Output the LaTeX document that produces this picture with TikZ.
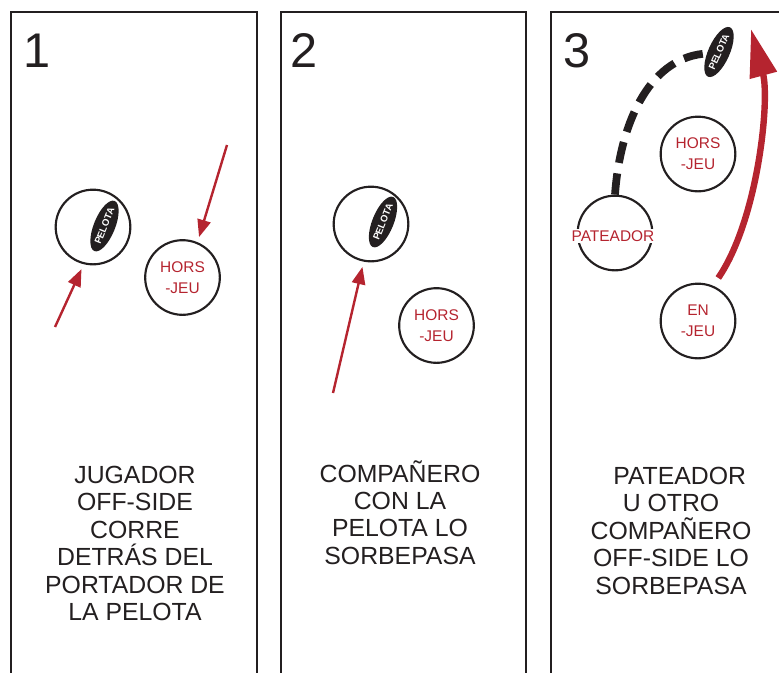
\documentclass[tikz,border=0pt]{standalone}
\usepackage{fontspec}
\setmainfont{Liberation Sans}
\usetikzlibrary{shapes.geometric,arrows.meta}
\definecolor{ink}{HTML}{231F20}
\definecolor{rojo}{HTML}{B5242F}
\tikzstyle{panel} = [draw=ink, line width=1.5pt]
\tikzstyle{player} = [draw=ink, circle, line width=1.6pt, minimum size=56pt, inner sep=0pt, text=rojo, align=center, font=\fontsize{11.6}{16}\selectfont]
\tikzstyle{tag} = [fill=white, text=rojo, inner sep=1pt, font=\fontsize{11.6}{16}\selectfont]
\tikzstyle{ball} = [ellipse, fill=ink, text=white, minimum width=40pt, minimum height=16pt, inner sep=0pt, font=\bfseries\fontsize{7.2}{8}\selectfont]
\tikzstyle{caption} = [anchor=north, align=center, text=ink, inner sep=0pt, font=\fontsize{18.6}{20.55}\selectfont]
\tikzstyle{number} = [anchor=base west, inner sep=0pt, text=ink, font=\fontsize{36.5}{40}\selectfont]
\tikzstyle{run} = [draw=rojo, line width=1.8pt, -{Triangle[length=13pt,width=10pt]}]
\tikzstyle{kick} = [draw=rojo, line width=4.8pt, -{Triangle[length=36pt,width=20pt]}]
\tikzstyle{pass} = [draw=ink, line width=5.8pt, dash pattern=on 16pt off 8pt]

\begin{document}
\begin{tikzpicture}[x=0.75pt, y=-0.75pt]
            \useasboundingbox (0,0) rectangle (779,672);
            \clip (0,0) rectangle (779,672);

            % panels
            \draw[panel] (11,690) -- (11,12) -- (257,12) -- (257,690);
            \draw[panel] (281,690) -- (281,12) -- (526,12) -- (526,690);
            \draw[panel] (551,690) -- (551,12) -- (800,12);

            \node[number]   (n1)    at (23,67)      {1};
            \node[number]   (n2)    at (290,67)     {2};
            \node[number]   (n3)    at (563,67)     {3};

            % 1
            \node[player]   (carrierA)  at (93,227)     {};
            \node[ball, rotate=68] (ballA) at (104.5,226) {PELOTA};
            \node[player]   (horsA)     at (182.5,277.5) {HORS\\-JEU};
            \coordinate (fromA) at (55,327);
            \coordinate (fromB) at (227,145);
            \draw[run, shorten >=4pt] (fromA) -- (carrierA.256);
            \draw[run, shorten >=4pt] (fromB) -- (horsA.67);

            % 2
            \node[player]   (carrierB)  at (371,224)    {};
            \node[ball, rotate=68] (ballB) at (383,222) {PELOTA};
            \node[player]   (horsB)     at (436.5,325.5) {HORS\\-JEU};
            \coordinate (fromC) at (333,393);
            \draw[run, shorten >=4pt] (fromC) -- (carrierB.259);

            % 3
            \node[player]   (pate)      at (615,233)    {};
            \node[tag]      (pateLbl)   at (613,236)    {PATEADOR};
            \node[player]   (horsC)     at (698,154)    {HORS\\-JEU};
            \node[player]   (enjeu)     at (698,321)    {EN\\-JEU};
            \node[ball, rotate=66] (ballC) at (719,52) {PELOTA};
            \coordinate (kickEnd) at (751,29);
            \draw[pass, shorten >=3pt] (pate.north) .. controls (620,125) and (648,60) .. (ballC);
            \draw[kick, shorten <=7pt] (enjeu.67) .. controls (758,220) and (770,100) .. (kickEnd);

            % captions
            \node[caption]  (capA)  at (135,466) {JUGADOR\\OFF-SIDE\\CORRE\\DETRÁS DEL\\PORTADOR DE\\LA PELOTA};
            \node[caption]  (capB)  at (400,460) {COMPAÑERO\\CON LA\\PELOTA LO\\SORBEPASA};
            \node[caption]  (capC)  at (671,467) {\hspace*{13pt}PATEADOR\\U OTRO\\COMPAÑERO\\OFF-SIDE LO\\SORBEPASA};
        \end{tikzpicture}
\end{document}
